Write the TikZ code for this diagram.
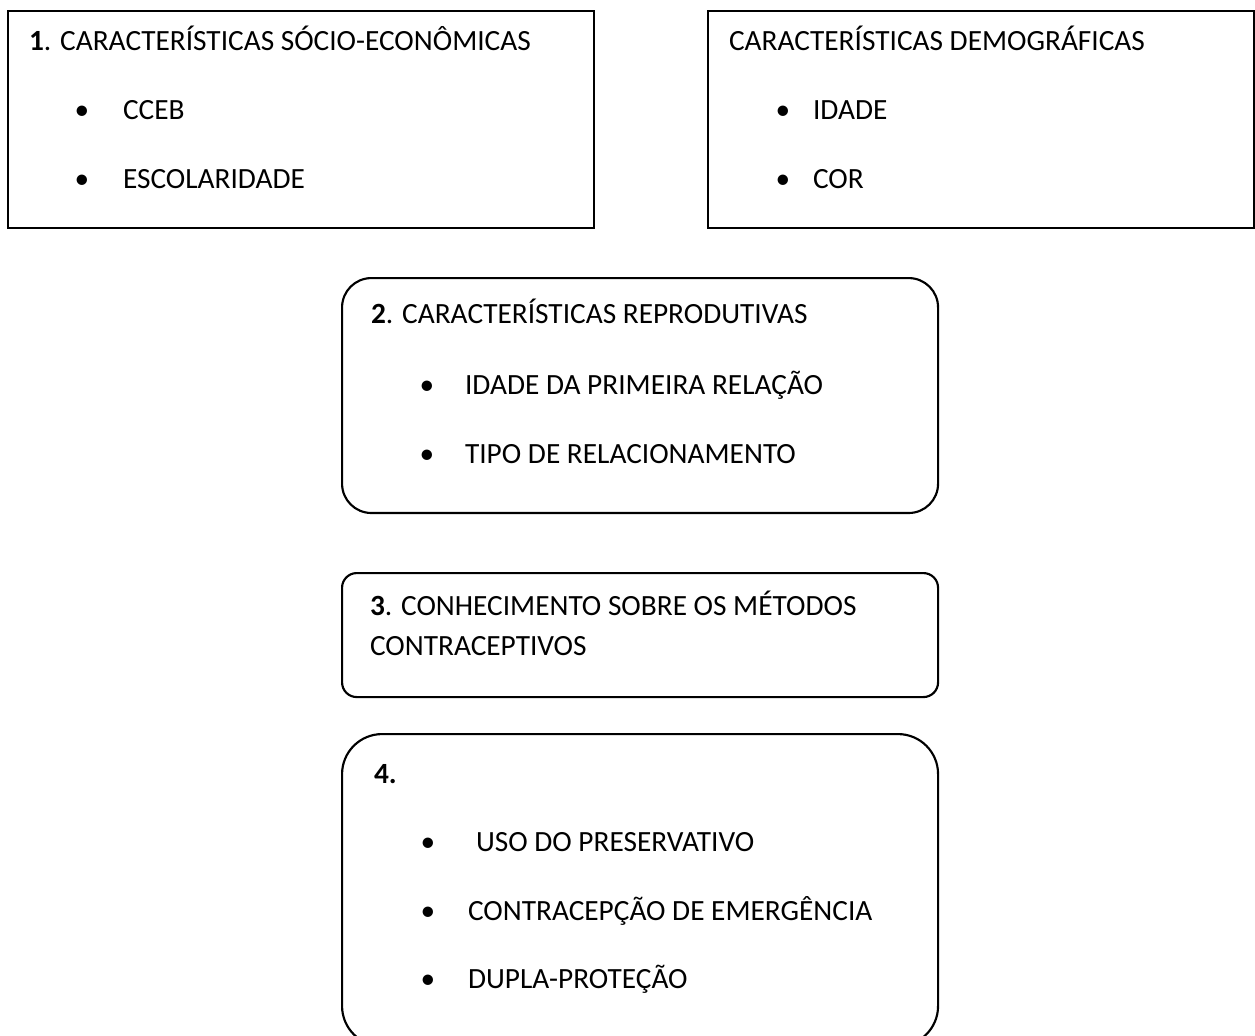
\documentclass[tikz,border=0pt]{standalone}
\usepackage{fontspec}
\setmainfont{Carlito}
\usepackage{tikz}
\usetikzlibrary{positioning}

\begin{document}
\begin{tikzpicture}[x=0.375pt,y=-0.375pt,
	font=\fontsize{11}{13}\selectfont,
	line width=0.8pt,
	txt/.style={anchor=base west,inner sep=0},
	bul/.style={anchor=base,inner sep=0}]
		
		\useasboundingbox (0,0) rectangle (1255,1036);
		
		% Boxes
		\node[draw,
		anchor=north west,
		minimum width=219.75pt,
		minimum height=81.4pt] (block1) at (7,10) {};
		
		\node[draw,
		anchor=north west,
		minimum width=204.9pt,
		minimum height=81.4pt] (block1b) at (707,10) {};
		
		\node[draw,
		rounded corners=11pt,
		anchor=north west,
		minimum width=223.5pt,
		minimum height=88.1pt] (block2) at (341,277) {};
		
		\node[draw,
		rounded corners=5.5pt,
		anchor=north west,
		minimum width=223.5pt,
		minimum height=46.5pt] (block3) at (341,572) {};
		
		\node[draw,
		rounded corners=15pt,
		anchor=north west,
		minimum width=223.5pt,
		minimum height=117pt] (block4) at (341,733) {};
		
		% Texts of block1
		\node[txt] (title1) at (28,50) {\textbf{1}. CARACTERÍSTICAS SÓCIO-ECONÔMICAS};
		\node[bul] (b1a) at (82,119) {•};
		\node[txt] (item1a) at (122,119) {CCEB};
		\node[bul] (b1b) at (82,188) {•};
		\node[txt] (item1b) at (122,188) {ESCOLARIDADE};
		
		% Texts of block1b
		\node[txt] (title1b) at (728,50) {CARACTERÍSTICAS DEMOGRÁFICAS};
		\node[bul] (b1ba) at (783,119) {•};
		\node[txt] (item1ba) at (812,119) {IDADE};
		\node[bul] (b1bb) at (783,188) {•};
		\node[txt] (item1bb) at (812,188) {COR};
		
		% Texts of block2
		\node[txt] (title2) at (370,323) {\textbf{2}. CARACTERÍSTICAS REPRODUTIVAS};
		\node[bul] (b2a) at (427,394) {•};
		\node[txt] (item2a) at (464,394) {IDADE DA PRIMEIRA RELAÇÃO};
		\node[bul] (b2b) at (427,463) {•};
		\node[txt] (item2b) at (464,463) {TIPO DE RELACIONAMENTO};
		
		% Texts of block3
		\node[txt] (title3) at (369,615) {\textbf{3}. CONHECIMENTO SOBRE OS MÉTODOS};
		\node[txt] (title3b) at (369,655) {CONTRACEPTIVOS};
		
		% Texts of block4
		\node[txt] (title4) at (373,783) {\textbf{4.}};
		\node[bul] (b4a) at (428,851) {•};
		\node[txt] (item4a) at (475,851) {USO DO PRESERVATIVO};
		\node[bul] (b4b) at (428,920) {•};
		\node[txt] (item4b) at (467,920) {CONTRACEPÇÃO DE EMERGÊNCIA};
		\node[bul] (b4c) at (428,988) {•};
		\node[txt] (item4c) at (467,988) {DUPLA-PROTEÇÃO};
		
		\end{tikzpicture}
\end{document}
